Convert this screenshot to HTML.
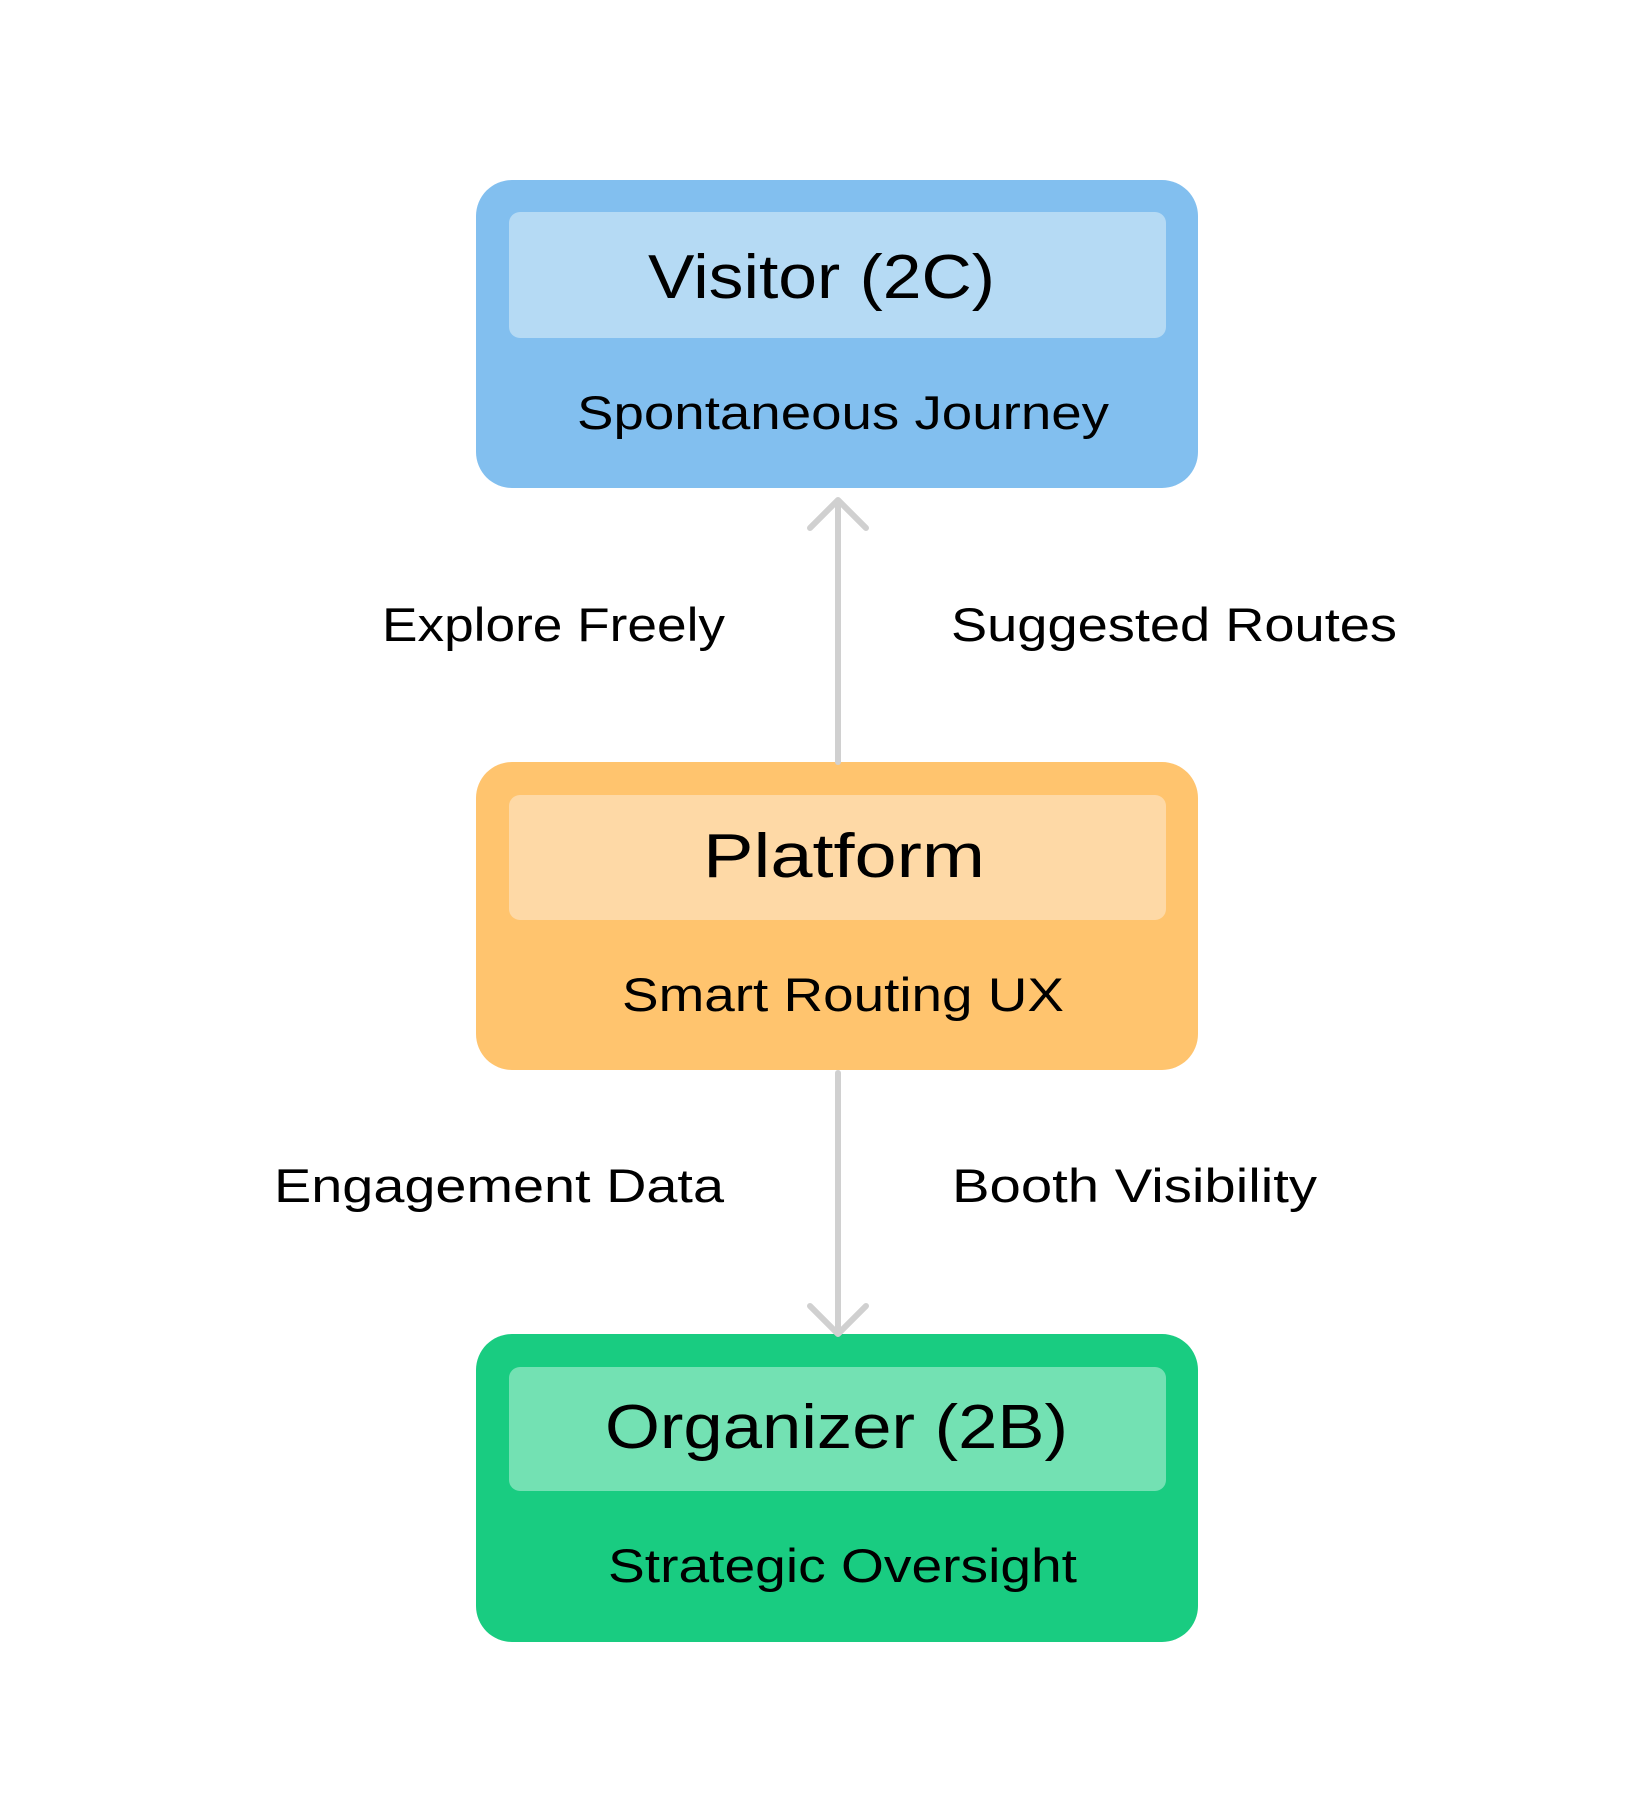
<!DOCTYPE html>
<html><head><meta charset="utf-8"><style>
html,body{margin:0;padding:0;background:#fff;}
svg{display:block;}
text{font-family:"Liberation Sans",sans-serif;fill:#000;}
</style></head><body>
<svg width="1652" height="1820" viewBox="0 0 1652 1820" xmlns="http://www.w3.org/2000/svg">
<rect width="1652" height="1820" fill="#fff"/>
<g transform="translate(-1,-1)">
<!-- Visitor -->
<rect x="477" y="181" width="722" height="308" rx="36" fill="#82bfef"/>
<rect x="510" y="213" width="657" height="126" rx="11" fill="#b5daf4"/>
<text x="649" y="299" font-size="62" textLength="347" lengthAdjust="spacingAndGlyphs">Visitor (2C)</text>
<text x="578" y="430" font-size="47" textLength="532" lengthAdjust="spacingAndGlyphs">Spontaneous Journey</text>
<!-- Platform -->
<rect x="477" y="763" width="722" height="308" rx="36" fill="#ffc46e"/>
<rect x="510" y="796" width="657" height="125" rx="11" fill="#fed9a6"/>
<text x="704" y="878" font-size="62" textLength="282" lengthAdjust="spacingAndGlyphs">Platform</text>
<text x="623" y="1012" font-size="47" textLength="442" lengthAdjust="spacingAndGlyphs">Smart Routing UX</text>
<!-- Organizer -->
<rect x="477" y="1335" width="722" height="308" rx="36" fill="#19cc81"/>
<rect x="510" y="1368" width="657" height="124" rx="11" fill="#73e1b3"/>
<text x="606" y="1449" font-size="62" textLength="463" lengthAdjust="spacingAndGlyphs">Organizer (2B)</text>
<text x="609" y="1583" font-size="47" textLength="469" lengthAdjust="spacingAndGlyphs">Strategic Oversight</text>
<!-- arrows -->
<g stroke="#d0d0d0" stroke-width="6" fill="none" stroke-linecap="round" stroke-linejoin="round">
<line x1="839" y1="763" x2="839" y2="503"/>
<polyline points="811,529 839,501 867,529"/>
<line x1="839" y1="1074" x2="839" y2="1333"/>
<polyline points="811,1307 839,1335 867,1307"/>
</g>
<!-- labels -->
<text x="383" y="642" font-size="47" textLength="343" lengthAdjust="spacingAndGlyphs">Explore Freely</text>
<text x="952" y="642" font-size="47" textLength="446" lengthAdjust="spacingAndGlyphs">Suggested Routes</text>
<text x="275" y="1203" font-size="47" textLength="450" lengthAdjust="spacingAndGlyphs">Engagement Data</text>
<text x="953" y="1203" font-size="47" textLength="365" lengthAdjust="spacingAndGlyphs">Booth Visibility</text>
</g>
</svg>
</body></html>
